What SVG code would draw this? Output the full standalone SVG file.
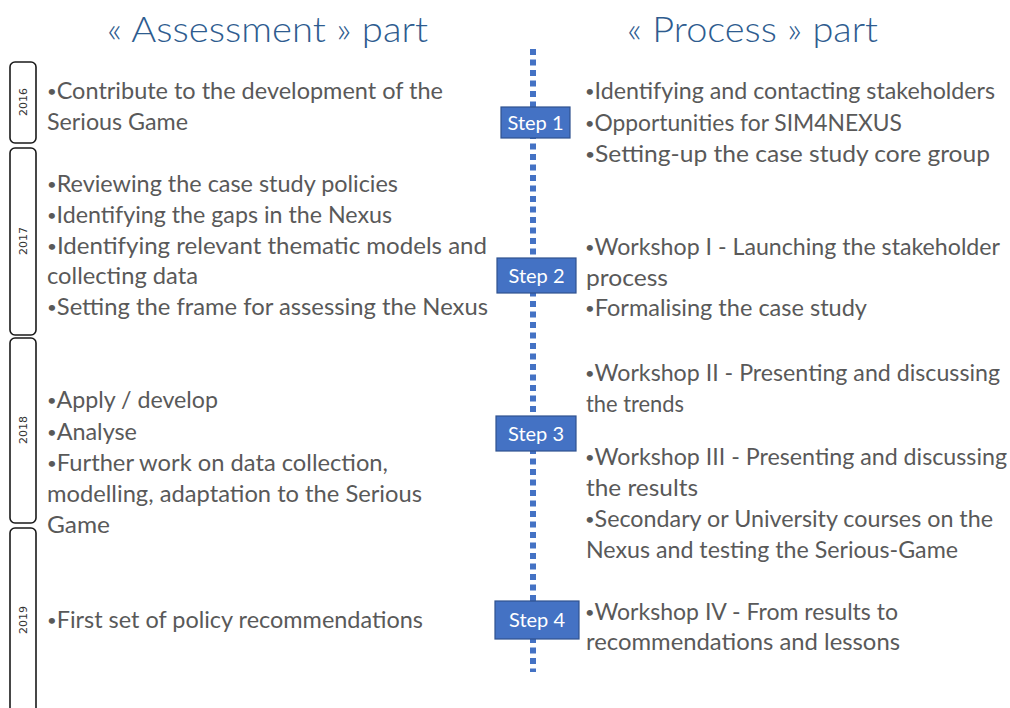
<svg xmlns="http://www.w3.org/2000/svg" width="1010" height="708" viewBox="0 0 1010 708">
<style>
.title{font-family:Lato,"Open Sans","Liberation Sans",sans-serif;font-weight:300;font-size:36px;fill:#2E5C8F}
.body{font-family:Lato,"Open Sans","Liberation Sans",sans-serif;font-size:22.5px;fill:#595959}
.b{font-size:16px}
.year{fill:#fff;stroke:#1a1a1a;stroke-width:1.6}
.ytxt{font-family:"DejaVu Sans",sans-serif;font-size:11px;fill:#333;text-anchor:middle}
.step rect{fill:#4472C4;stroke:#2F528F;stroke-width:1.2}
.step text{font-family:Lato,"Open Sans","Liberation Sans",sans-serif;font-size:20px;fill:#fff;text-anchor:middle}
.dots{stroke:#4472C4;stroke-width:6;stroke-dasharray:6 4.5;fill:none}
</style>
<rect width="1010" height="708" fill="#fff"/>
<g id="titles">
<text class="title" x="107" y="42" textLength="321" lengthAdjust="spacingAndGlyphs">« Assessment » part</text>
<text class="title" x="627" y="42" textLength="251" lengthAdjust="spacingAndGlyphs">« Process » part</text>
</g>
<g id="years">
<g id="y2016"><rect class="year" x="10" y="62" width="26" height="81" rx="5"/><text class="ytxt" transform="translate(27,102) rotate(-90)">2016</text></g>
<g id="y2017"><rect class="year" x="10" y="148" width="26" height="187" rx="5"/><text class="ytxt" transform="translate(27,241) rotate(-90)">2017</text></g>
<g id="y2018"><rect class="year" x="10" y="338" width="26" height="185" rx="5"/><text class="ytxt" transform="translate(27,430) rotate(-90)">2018</text></g>
<g id="y2019"><rect class="year" x="10" y="528" width="26" height="190" rx="5"/><text class="ytxt" transform="translate(27,620) rotate(-90)">2019</text></g>
</g>
<g id="connectors">
<line class="dots" x1="533" y1="49" x2="533" y2="672"/>
</g>
<g id="steps">
<g id="step1" class="step"><rect x="501" y="107" width="69" height="31"/><text x="535.5" y="129.5">Step 1</text></g>
<g id="step2" class="step"><rect x="497" y="258" width="79" height="35"/><text x="536.5" y="282.5">Step 2</text></g>
<g id="step3" class="step"><rect x="496" y="416" width="80" height="35"/><text x="536" y="440.5">Step 3</text></g>
<g id="step4" class="step"><rect x="495" y="601" width="84" height="38"/><text x="537" y="627">Step 4</text></g>
</g>
<g id="assessment">
<text class="body" x="47" y="99" textLength="396" lengthAdjust="spacingAndGlyphs"><tspan class="b" dy="-2.5">•</tspan><tspan dy="2.5">Contribute to the development of the</tspan></text>
<text class="body" x="47" y="130" textLength="141" lengthAdjust="spacingAndGlyphs">Serious Game</text>
<text class="body" x="47" y="192" textLength="351" lengthAdjust="spacingAndGlyphs"><tspan class="b" dy="-2.5">•</tspan><tspan dy="2.5">Reviewing the case study policies</tspan></text>
<text class="body" x="47" y="223" textLength="345" lengthAdjust="spacingAndGlyphs"><tspan class="b" dy="-2.5">•</tspan><tspan dy="2.5">Identifying the gaps in the Nexus</tspan></text>
<text class="body" x="47" y="254" textLength="440" lengthAdjust="spacingAndGlyphs"><tspan class="b" dy="-2.5">•</tspan><tspan dy="2.5">Identifying relevant thematic models and</tspan></text>
<text class="body" x="47" y="284" textLength="151" lengthAdjust="spacingAndGlyphs">collecting data</text>
<text class="body" x="47" y="315" textLength="441" lengthAdjust="spacingAndGlyphs"><tspan class="b" dy="-2.5">•</tspan><tspan dy="2.5">Setting the frame for assessing the Nexus</tspan></text>
<text class="body" x="47" y="408" textLength="171" lengthAdjust="spacingAndGlyphs"><tspan class="b" dy="-2.5">•</tspan><tspan dy="2.5">Apply / develop</tspan></text>
<text class="body" x="47" y="440" textLength="90" lengthAdjust="spacingAndGlyphs"><tspan class="b" dy="-2.5">•</tspan><tspan dy="2.5">Analyse</tspan></text>
<text class="body" x="47" y="471" textLength="341" lengthAdjust="spacingAndGlyphs"><tspan class="b" dy="-2.5">•</tspan><tspan dy="2.5">Further work on data collection,</tspan></text>
<text class="body" x="47" y="502" textLength="375" lengthAdjust="spacingAndGlyphs">modelling, adaptation to the Serious</text>
<text class="body" x="47" y="533" textLength="63" lengthAdjust="spacingAndGlyphs">Game</text>
<text class="body" x="47" y="628" textLength="376" lengthAdjust="spacingAndGlyphs"><tspan class="b" dy="-2.5">•</tspan><tspan dy="2.5">First set of policy recommendations</tspan></text>
</g>
<g id="process">
<text class="body" x="585" y="99" textLength="410" lengthAdjust="spacingAndGlyphs"><tspan class="b" dy="-2.5">•</tspan><tspan dy="2.5">Identifying and contacting stakeholders</tspan></text>
<text class="body" x="585" y="131" textLength="317" lengthAdjust="spacingAndGlyphs"><tspan class="b" dy="-2.5">•</tspan><tspan dy="2.5">Opportunities for SIM4NEXUS</tspan></text>
<text class="body" x="585" y="162" textLength="405" lengthAdjust="spacingAndGlyphs"><tspan class="b" dy="-2.5">•</tspan><tspan dy="2.5">Setting-up the case study core group</tspan></text>
<text class="body" x="585" y="255" textLength="415" lengthAdjust="spacingAndGlyphs"><tspan class="b" dy="-2.5">•</tspan><tspan dy="2.5">Workshop I - Launching the stakeholder</tspan></text>
<text class="body" x="586" y="286" textLength="82" lengthAdjust="spacingAndGlyphs">process</text>
<text class="body" x="585" y="316" textLength="282" lengthAdjust="spacingAndGlyphs"><tspan class="b" dy="-2.5">•</tspan><tspan dy="2.5">Formalising the case study</tspan></text>
<text class="body" x="585" y="381" textLength="415" lengthAdjust="spacingAndGlyphs"><tspan class="b" dy="-2.5">•</tspan><tspan dy="2.5">Workshop II - Presenting and discussing</tspan></text>
<text class="body" x="586" y="412" textLength="98" lengthAdjust="spacingAndGlyphs">the trends</text>
<text class="body" x="585" y="465" textLength="422" lengthAdjust="spacingAndGlyphs"><tspan class="b" dy="-2.5">•</tspan><tspan dy="2.5">Workshop III - Presenting and discussing</tspan></text>
<text class="body" x="586" y="496" textLength="112" lengthAdjust="spacingAndGlyphs">the results</text>
<text class="body" x="585" y="527" textLength="408" lengthAdjust="spacingAndGlyphs"><tspan class="b" dy="-2.5">•</tspan><tspan dy="2.5">Secondary or University courses on the</tspan></text>
<text class="body" x="586" y="558" textLength="372" lengthAdjust="spacingAndGlyphs">Nexus and testing the Serious-Game</text>
<text class="body" x="585" y="620" textLength="313" lengthAdjust="spacingAndGlyphs"><tspan class="b" dy="-2.5">•</tspan><tspan dy="2.5">Workshop IV - From results to</tspan></text>
<text class="body" x="586" y="650" textLength="314" lengthAdjust="spacingAndGlyphs">recommendations and lessons</text>
</g>
</svg>
